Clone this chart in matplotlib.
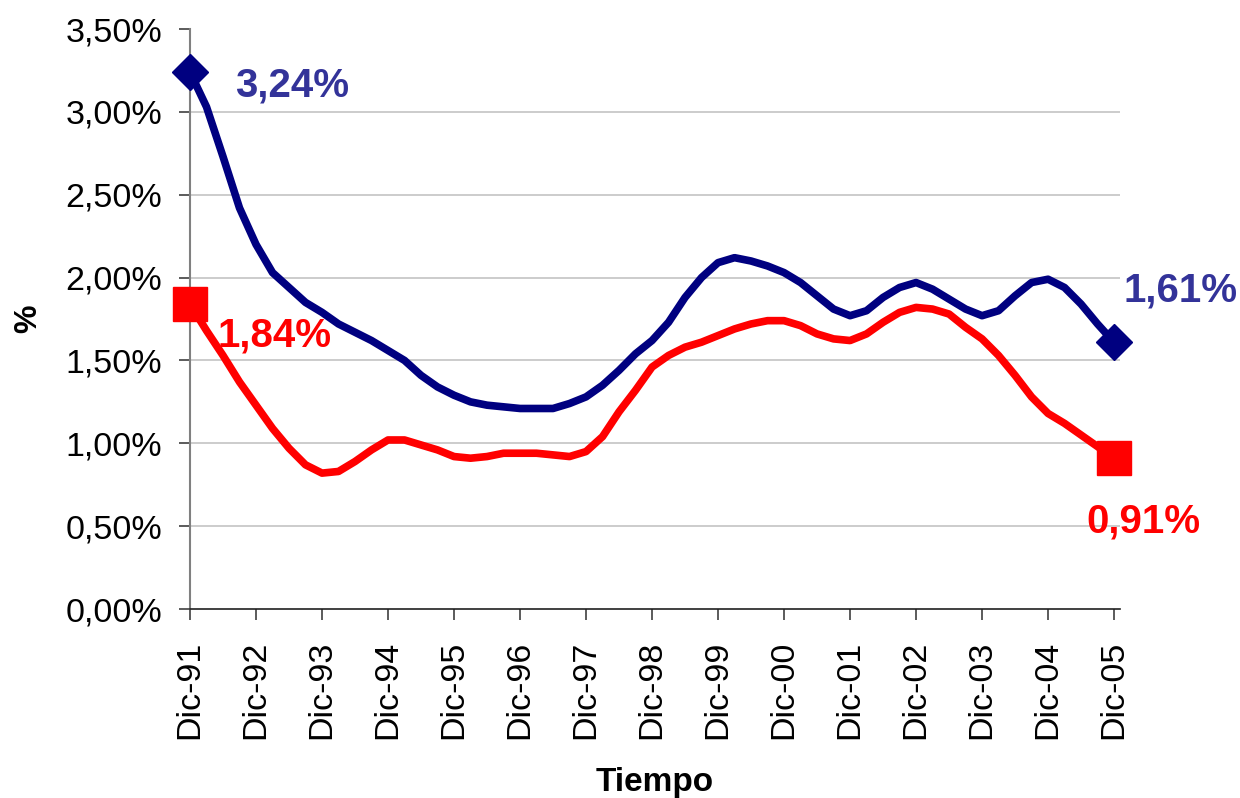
import matplotlib
matplotlib.use("Agg")
import matplotlib.pyplot as plt
import numpy as np
from matplotlib.ticker import FuncFormatter

plt.rcParams['font.family'] = ['Liberation Sans', 'DejaVu Sans']

# quarterly observations, Dic-91 .. Dic-05 (values in %)
YEAR_LABELS = ['Dic-91', 'Dic-92', 'Dic-93', 'Dic-94', 'Dic-95', 'Dic-96', 'Dic-97',
               'Dic-98', 'Dic-99', 'Dic-00', 'Dic-01', 'Dic-02', 'Dic-03', 'Dic-04',
               'Dic-05']

serie_azul = [3.24, 3.03, 2.73, 2.42, 2.20, 2.03, 1.94, 1.85, 1.79, 1.72, 1.67, 1.62,
              1.56, 1.50, 1.41, 1.34, 1.29, 1.25, 1.23, 1.22, 1.21, 1.21, 1.21, 1.24,
              1.28, 1.35, 1.44, 1.54, 1.62, 1.73, 1.88, 2.00, 2.09, 2.12, 2.10, 2.07,
              2.03, 1.97, 1.89, 1.81, 1.77, 1.80, 1.88, 1.94, 1.97, 1.93, 1.87, 1.81,
              1.77, 1.80, 1.89, 1.97, 1.99, 1.94, 1.84, 1.72, 1.61]

serie_roja = [1.84, 1.68, 1.53, 1.37, 1.23, 1.09, 0.97, 0.87, 0.82, 0.83, 0.89, 0.96,
              1.02, 1.02, 0.99, 0.96, 0.92, 0.91, 0.92, 0.94, 0.94, 0.94, 0.93, 0.92,
              0.95, 1.04, 1.19, 1.32, 1.46, 1.53, 1.58, 1.61, 1.65, 1.69, 1.72, 1.74,
              1.74, 1.71, 1.66, 1.63, 1.62, 1.66, 1.73, 1.79, 1.82, 1.81, 1.78, 1.70,
              1.63, 1.53, 1.41, 1.28, 1.18, 1.12, 1.05, 0.98, 0.91]

Y_TICKS = [0.0, 0.5, 1.0, 1.5, 2.0, 2.5, 3.0, 3.5]

AZUL = '#000080'
AZUL_TEXTO = '#333399'
ROJO = '#FF0000'

t = np.arange(len(serie_azul)) / 4.0
years = np.arange(len(YEAR_LABELS))

fig = plt.figure(figsize=(12.4, 7.98), dpi=100)
x0, x1 = 190 / 1240, 1120 / 1240
y0, y1 = 1 - 609 / 798, 1 - 29 / 798
ax = fig.add_axes([x0, y0, x1 - x0, y1 - y0])

ax.set_xlim(0, 14.09)
ax.set_ylim(0, 3.5)

# gridlines (none at 0 and at the top)
for v in Y_TICKS[1:-1]:
    ax.axhline(v, color='#c8c8c8', lw=1.3, zorder=1)

ax.plot(t, serie_azul, color=AZUL, lw=5.5, zorder=3, solid_joinstyle='round')
ax.plot(t, serie_roja, color=ROJO, lw=5.5, zorder=3, solid_joinstyle='round')

# end markers
ax.plot([t[0], t[-1]], [serie_azul[0], serie_azul[-1]], linestyle='none', marker='D',
        markersize=18, color=AZUL, clip_on=False, zorder=4)
ax.plot([t[0], t[-1]], [serie_roja[0], serie_roja[-1]], linestyle='none', marker='s',
        markersize=25, color=ROJO, clip_on=False, zorder=4)

def fmt(v):
    return ('%.2f%%' % v).replace('.', ',')

ax.text(0.68, 3.16, fmt(serie_azul[0]), color=AZUL_TEXTO, fontsize=29,
        fontweight='bold', ha='left', va='center')
ax.text(0.42, 1.65, fmt(serie_roja[0]), color=ROJO, fontsize=29,
        fontweight='bold', ha='left', va='center')
ax.text(14.15, 1.92, fmt(serie_azul[-1]), color=AZUL_TEXTO, fontsize=29,
        fontweight='bold', ha='left', va='center')
ax.text(14.45, 0.53, fmt(serie_roja[-1]), color=ROJO, fontsize=29,
        fontweight='bold', ha='center', va='center')

ax.set_yticks(Y_TICKS)
ax.yaxis.set_major_formatter(FuncFormatter(lambda v, p: fmt(v)))
ax.set_xticks(years)
ax.set_xticklabels(YEAR_LABELS, rotation=90)

for s in ['top', 'right']:
    ax.spines[s].set_visible(False)
ax.spines['left'].set_color('#808080')
ax.spines['left'].set_linewidth(1.5)
ax.spines['bottom'].set_color('#202020')
ax.spines['bottom'].set_linewidth(1.2)

ax.tick_params(axis='y', direction='out', length=8, width=1.2, color='#404040',
               labelsize=24.5, pad=12)
ax.tick_params(axis='x', direction='out', length=8, width=1.2, color='#404040',
               labelsize=24.5, pad=15)

ax.set_xlabel('Tiempo', fontsize=24, fontweight='bold', labelpad=20)
ax.set_ylabel('%', fontsize=23, fontweight='bold', labelpad=16)

fig.savefig('out.png', dpi=100)
